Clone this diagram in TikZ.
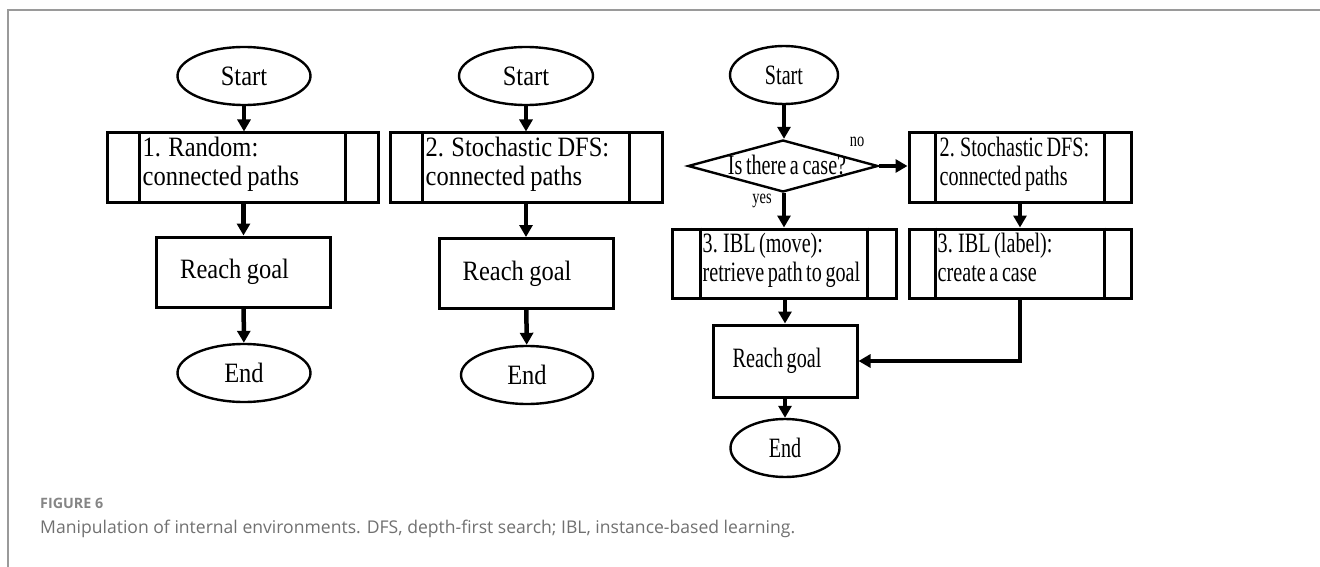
\documentclass[tikz,border=0pt]{standalone}
\usepackage{fontspec}
\setmainfont{Liberation Serif}
\newfontfamily\boxserif[FakeStretch=0.875,WordSpace=0.875]{Liberation Serif}
\newfontfamily\narrowserif[FakeStretch=0.72,WordSpace=0.72]{Liberation Serif}
\newfontfamily\capfont{Open Sans}
\usetikzlibrary{arrows.meta,shapes.geometric}
\definecolor{framegray}{HTML}{9A9A9A}
\definecolor{capgray}{HTML}{707070}
\tikzset{
  wfont/.style={font=\boxserif\fontsize{28}{29}\selectfont},
  nfont/.style={font=\narrowserif\fontsize{28}{29}\selectfont},
  term/.style={ellipse, draw, line width=2.4pt, inner sep=0pt, minimum height=58pt},
  procbox/.style={rectangle, draw, line width=3pt, minimum height=69pt, inner sep=0pt},
  proctext/.style={anchor=west, align=left, inner sep=0pt, yshift=2pt},
  goalbox/.style={rectangle, draw, line width=3pt, minimum height=70pt, inner sep=0pt},
  goaltext/.style={anchor=west, inner sep=0pt},
  flow/.style={line width=4.5pt, -{Triangle[length=12pt,width=13pt]}},
  side/.style={line width=3pt},
  small/.style={font=\narrowserif\fontsize{20}{22}\selectfont, inner sep=0pt},
}
\newcommand\figlabel{FIGURE 6}
\newcommand\figcaption{Manipulation of internal environments. DFS, depth-first search; IBL, instance-based learning.}
\newlength\labw
\newlength\capw
\begin{document}
% caption sizes chosen so that the lines take their set widths
\settowidth\labw{\capfont\bfseries\fontsize{10}{12}\selectfont\figlabel}%
\settowidth\capw{\capfont\fontsize{10}{12}\selectfont\figcaption}%
\pgfmathsetmacro\labsize{10*63/\labw}%
\pgfmathsetmacro\capsize{10*755/\capw}%
\begin{tikzpicture}[x=1pt,y=-1pt]
\useasboundingbox (0,0) rectangle (1320,567);
% outer frame (top and left rules)
\draw[line width=2pt, framegray] (8,567) -- (8,10) -- (1320,10);

% ---- column 1: random ----
\node[term, wfont, minimum width=133pt] (s1) at (244,76) {Start};
\node[procbox, minimum width=271pt] (p1) at (242.5,167.5) {};
\node[proctext, wfont] (p1t) at ([xshift=37pt]p1.west) {1. Random:\strut\\connected paths\strut};
\node[goalbox, minimum width=174pt] (g1) at (243.5,272) {};
\node[goaltext, wfont] (g1t) at ([xshift=25pt]g1.west) {Reach goal};
\node[term, wfont, minimum width=133pt] (e1) at (244,373) {End};
\draw[flow] (s1) -- (s1 |- p1.north);
\draw[flow] (p1.south -| g1) -- (g1.north);
\draw[flow] (g1) -- (e1);

% ---- column 2: stochastic DFS ----
\node[term, wfont, minimum width=134pt] (s2) at (526,76) {Start};
\node[procbox, minimum width=272pt] (p2) at (526,167.5) {};
\node[proctext, wfont] (p2t) at ([xshift=37pt]p2.west) {2. Stochastic DFS:\strut\\connected paths\strut};
\node[goalbox, minimum width=174pt] (g2) at (526,273.5) {};
\node[goaltext, wfont] (g2t) at ([xshift=25pt]g2.west) {Reach goal};
\node[term, wfont, minimum width=132pt] (e2) at (527,375) {End};
\draw[flow] (s2) -- (s2 |- p2.north);
\draw[flow] (p2.south -| g2) -- (g2.north);
\draw[flow] (g2) -- (e2);

% ---- column 3: IBL with fallback ----
\node[term, nfont, minimum width=108pt] (s3) at (784,75) {Start};
\node[diamond, draw, line width=2.4pt, inner sep=0pt, minimum width=190pt, minimum height=52pt] (d3) at (783,166) {};
\node[nfont, inner sep=0pt] (d3t) at (787,165) {Is there a case?};
\node[procbox, minimum width=224pt] (m3) at (784,263.5) {};
\node[proctext, nfont] (m3t) at ([xshift=32pt]m3.west) {3. IBL (move):\strut\\retrieve path to goal\strut};
\node[procbox, minimum width=222pt] (q3) at (1020,167.5) {};
\node[proctext, nfont] (q3t) at ([xshift=32pt]q3.west) {2. Stochastic DFS:\strut\\connected paths\strut};
\node[procbox, minimum width=222pt] (l3) at (1020,263.5) {};
\node[proctext, nfont] (l3t) at ([xshift=30pt]l3.west) {3. IBL (label):\strut\\create a case\strut};
\node[goalbox, minimum width=144pt, minimum height=72pt] (g3) at (785,361) {};
\node[goaltext, nfont] (g3t) at ([xshift=21pt]g3.west) {Reach goal};
\node[term, nfont, minimum width=109pt] (e3) at (785,448) {End};
\node[small] (no) at (857,142) {no};
\node[small] (yes) at (762,201) {yes};
\draw[flow] (s3) -- (s3 |- d3.north);
\draw[flow] (d3.east) -- (d3.east -| q3.west);
\draw[flow] (d3.south -| m3) -- (m3.north);
\draw[flow] (q3) -- (l3);
\draw[flow] (m3.south -| g3) -- (g3.north);
\draw[flow] (l3.south) |- (g3.east);
\draw[flow] (g3) -- (e3);

% side bars of the predefined-process boxes
\foreach \n/\d in {p1/34, p2/34, q3/28, l3/28, m3/30}
  \draw[side] ([xshift=\d pt]\n.north west) -- ([xshift=\d pt]\n.south west)
              ([xshift=-\d pt]\n.north east) -- ([xshift=-\d pt]\n.south east);

% caption
\node[anchor=base west, inner sep=0pt, font=\capfont\bfseries\fontsize{\labsize}{18}\selectfont, text=capgray!85] (fig) at (40,508) {\figlabel};
\node[anchor=base west, inner sep=0pt, font=\capfont\fontsize{\capsize}{21}\selectfont, text=capgray] (cap) at (40,533) {\figcaption};
\end{tikzpicture}
\end{document}
